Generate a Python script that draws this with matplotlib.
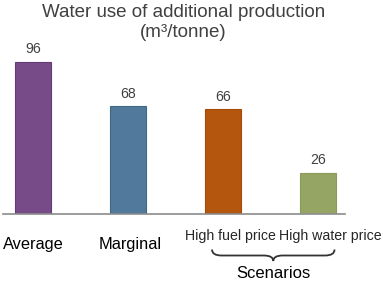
import matplotlib
matplotlib.use("Agg")
import matplotlib.pyplot as plt
from matplotlib.path import Path
from matplotlib.patches import PathPatch
import matplotlib.transforms as mtransforms

plt.rcParams["font.family"] = ["Liberation Sans", "DejaVu Sans"]

# data
categories = ["Average", "Marginal", "High fuel price", "High water price"]
values = [96, 68, 66, 26]
colors = ["#764B87", "#51799B", "#B5560E", "#95A563"]
edges = ["#643A78", "#3F6788", "#A84A05", "#8A9A57"]
group_label = "Scenarios"
title = "Water use of additional production\n(m³/tonne)"

W, H = 383, 283
fig = plt.figure(figsize=(W / 100, H / 100), dpi=100)
ax = fig.add_axes([3 / W, (H - 213.7) / H, 342 / W, 158.3 / H])

x = list(range(len(categories)))
ax.bar(x, values, width=0.38, color=colors, edgecolor=edges, linewidth=0.8)
ax.set_xlim(-0.32, 3.28)
ax.set_ylim(0, 100)

for s in ["top", "right", "left"]:
    ax.spines[s].set_visible(False)
ax.spines["bottom"].set_color("#8C8C8C")
ax.spines["bottom"].set_linewidth(1.2)
ax.set_yticks([])
ax.set_xticks([])

# value labels
for xi, v in zip(x, values):
    ax.annotate(str(v), (xi, v), xytext=(0, 4), textcoords="offset points",
                ha="center", va="bottom", fontsize=10.2, color="#404040")

# category labels
trans = mtransforms.blended_transform_factory(ax.transData, fig.transFigure)
offsets = [0, 0.02, 0.07, 0.13]
for i, (xi, lab) in enumerate(zip(x, categories)):
    if i < 2:
        ax.text(xi + offsets[i], (H - 245) / H, lab, transform=trans,
                ha="center", va="center", fontsize=11.8, color="#000000")
    else:
        ax.text(xi + offsets[i], (H - 236) / H, lab, transform=trans,
                ha="center", va="center", fontsize=10.2, color="#262626")

# curly brace under the scenarios
x0, x1 = x[2] - 0.12, x[3] + 0.17
xm = (x0 + x1) / 2
ytop, ymid, ybot = (H - 249.5) / H, (H - 255.5) / H, (H - 261) / H
verts = [(x0, ytop), (x0, ymid), (x0 + 0.1, ymid),
         (xm - 0.1, ymid), (xm, ymid), (xm, ybot),
         (xm, ymid), (xm + 0.1, ymid),
         (x1 - 0.1, ymid), (x1, ymid), (x1, ytop)]
codes = [Path.MOVETO, Path.CURVE3, Path.CURVE3,
         Path.LINETO, Path.CURVE3, Path.CURVE3,
         Path.CURVE3, Path.CURVE3,
         Path.LINETO, Path.CURVE3, Path.CURVE3]
brace = PathPatch(Path(verts, codes), transform=trans, fill=False,
                  edgecolor="#333333", linewidth=1.3, clip_on=False)
fig.add_artist(brace)

ax.text(xm, (H - 274) / H, group_label, transform=trans, ha="center",
        va="center", fontsize=12, color="#000000")

fig.text(183.5 / W, (H - 22.5) / H, title, ha="center", va="center",
         fontsize=13.5, color="#404040", linespacing=1.2)

fig.savefig("out.png", dpi=100)
